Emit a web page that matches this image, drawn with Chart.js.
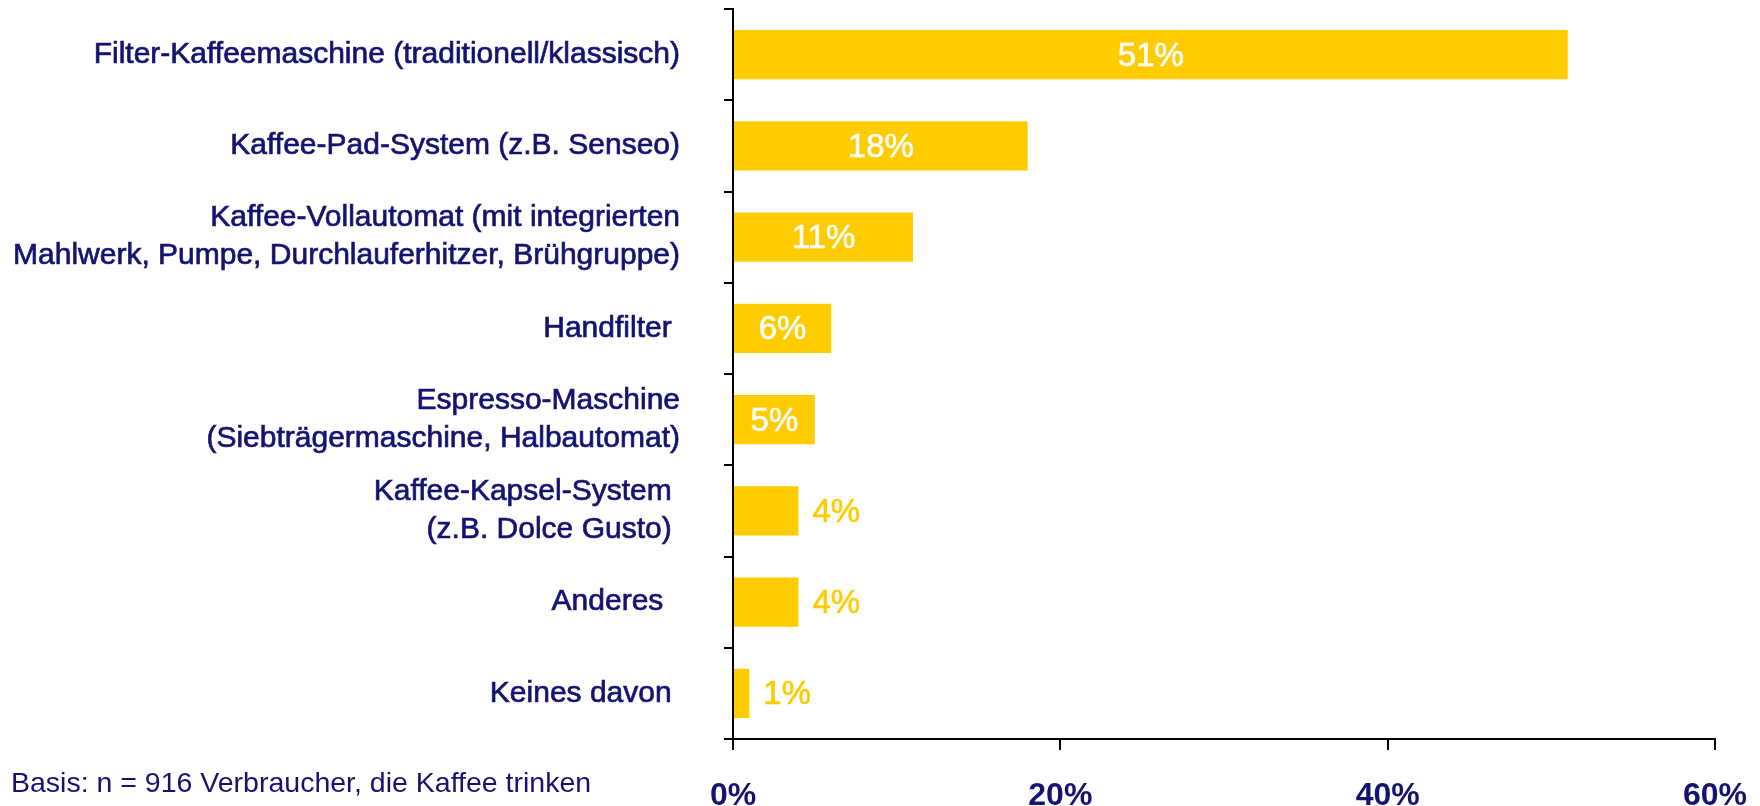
<!DOCTYPE html>
<html>
<head>
<meta charset="utf-8">
<script src="https://cdn.jsdelivr.net/npm/chart.js@4.4.1/dist/chart.umd.min.js"></script>
<style>
  html, body { margin: 0; padding: 0; background: #fff; }
  #wrap { position: relative; width: 1760px; height: 806px; overflow: hidden; }
  #basis {
    position: absolute; left: 11px; top: 766px;
    font-family: 'Liberation Sans', Arial, sans-serif; font-size: 28.5px;
    color: #141470; white-space: nowrap;
  }
</style>
</head>
<body>
<div id="wrap">
  <canvas id="chart" width="1760" height="806"></canvas>
  <div id="basis">Basis: n = 916 Verbraucher, die Kaffee trinken</div>
</div>
<script>
const categories = [
    'Filter-Kaffeemaschine (traditionell/klassisch)',
    'Kaffee-Pad-System (z.B. Senseo)',
    ['Kaffee-Vollautomat (mit integrierten', 'Mahlwerk, Pumpe, Durchlauferhitzer, Brühgruppe)'],
    'Handfilter ',
    ['Espresso-Maschine', '(Siebträgermaschine, Halbautomat)'],
    ['Kaffee-Kapsel-System ', '(z.B. Dolce Gusto) '],
    'Anderes  ',
    'Keines davon '
];
const shares = [51, 18, 11, 6, 5, 4, 4, 1];
const xTicks = [0, 20, 40, 60];

const navy = '#141470';
const yellow = '#ffcc00';

// value labels: white inside the bar, yellow beside small bars
const valueLabels = {
    id: 'valueLabels',
    afterDatasetsDraw(chart) {
        const ctx = chart.ctx;
        const meta = chart.getDatasetMeta(0);
        ctx.save();
        ctx.font = '33px "Liberation Sans", Arial, sans-serif';
        ctx.textBaseline = 'middle';
        ctx.lineWidth = 0.6;
        meta.data.forEach((bar, i) => {
            const v = shares[i];
            const text = v + '%';
            const w = ctx.measureText(text).width;
            let x;
            if (v >= 5) {
                x = (bar.x + bar.base) / 2;
                if (x + w / 2 > bar.x) x = bar.x - w / 2;
                ctx.fillStyle = ctx.strokeStyle = '#ffffff';
                ctx.textAlign = 'center';
            } else {
                x = bar.x + 14;
                ctx.fillStyle = ctx.strokeStyle = yellow;
                ctx.textAlign = 'left';
            }
            ctx.fillText(text, x, bar.y + 2);
            ctx.strokeText(text, x, bar.y + 2);
        });
        ctx.restore();
    }
};

function noPadding(scale) {
    scale.paddingTop = 0;
    scale.paddingBottom = 0;
    scale.paddingLeft = 0;
    scale.paddingRight = 0;
}

new Chart(document.getElementById('chart').getContext('2d'), {
    type: 'bar',
    data: {
        labels: categories,
        datasets: [{
            data: shares,
            backgroundColor: yellow,
            borderWidth: 0,
            barPercentage: 0.54,
            categoryPercentage: 1
        }]
    },
    options: {
        indexAxis: 'y',
        responsive: false,
        animation: false,
        layout: { padding: { left: 0, right: 45, top: 9, bottom: 0 } },
        plugins: {
            legend: { display: false },
            tooltip: { enabled: false }
        },
        scales: {
            y: {
                afterFit(scale) { scale.width = 733; noPadding(scale); },
                border: { display: true, color: '#000', width: 2 },
                grid: {
                    drawOnChartArea: false,
                    drawTicks: true,
                    tickLength: 9,
                    color: '#000',
                    lineWidth: 2,
                    offset: true
                },
                ticks: {
                    color: navy,
                    padding: 44,
                    textStrokeColor: navy,
                    textStrokeWidth: 0.7,
                    font: { family: '"Liberation Sans", Arial, sans-serif', size: 30, lineHeight: 1.27 }
                }
            },
            x: {
                min: 0,
                max: 60,
                afterFit(scale) { scale.height = 67; noPadding(scale); },
                afterBuildTicks(scale) { scale.ticks = xTicks.map(v => ({ value: v })); },
                border: { display: true, color: '#000', width: 2 },
                grid: {
                    drawOnChartArea: false,
                    drawTicks: true,
                    tickLength: 11,
                    color: '#000',
                    lineWidth: 2
                },
                ticks: {
                    color: navy,
                    padding: 27,
                    maxRotation: 0,
                    callback: v => v + '%',
                    font: { family: '"Liberation Sans", Arial, sans-serif', size: 32, weight: 'bold' }
                }
            }
        }
    },
    plugins: [valueLabels]
});
</script>
</body>
</html>
